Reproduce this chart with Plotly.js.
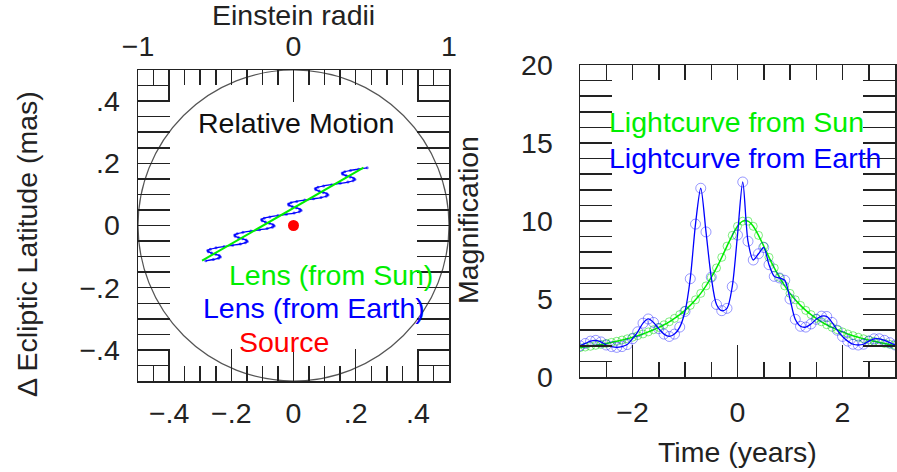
<!DOCTYPE html>
<html><head><meta charset="utf-8">
<script src="https://cdn.plot.ly/plotly-3.0.1.min.js"></script>
<style>html,body{margin:0;padding:0;background:#fff}#chart{width:897px;height:472px}</style>
</head><body><div id="chart"></div>
<script>
// ---------- data ----------
const timeYears = [-3.0,-2.9,-2.8,-2.7,-2.6,-2.5,-2.4,-2.3,-2.2,-2.1,-2.0,-1.9,-1.8,-1.7,-1.6,-1.5,-1.4,-1.3,-1.2,-1.1,-1.0,-0.9,-0.8,-0.7,-0.6,-0.5,-0.4,-0.3,-0.2,-0.1,0.0,0.1,0.2,0.3,0.4,0.5,0.6,0.7,0.8,0.9,1.0,1.1,1.2,1.3,1.4,1.5,1.6,1.7,1.8,1.9,2.0,2.1,2.2,2.3,2.4,2.5,2.6,2.7,2.8,2.9,3.0];
const magSun = [1.88,1.92,1.97,2.03,2.09,2.15,2.22,2.29,2.37,2.45,2.55,2.65,2.76,2.89,3.03,3.18,3.35,3.54,3.76,4.00,4.27,4.59,4.95,5.36,5.84,6.38,6.99,7.67,8.39,9.08,9.66,9.99,9.99,9.66,9.08,8.39,7.67,6.99,6.38,5.84,5.36,4.95,4.59,4.27,4.00,3.76,3.54,3.35,3.18,3.03,2.89,2.76,2.65,2.55,2.45,2.37,2.29,2.22,2.15,2.09,2.03];
const magEarth = [2.00,2.15,2.30,2.35,2.25,2.05,1.95,1.90,1.95,2.08,2.45,2.90,3.45,3.72,3.50,3.10,2.75,2.60,2.75,3.20,4.20,6.30,9.80,12.10,9.30,6.40,4.65,4.25,4.40,5.80,9.10,12.50,8.70,7.50,7.90,8.30,7.20,6.45,6.35,6.20,5.00,3.70,3.25,3.20,3.40,3.70,3.90,3.88,3.50,3.00,2.60,2.30,2.10,2.05,2.10,2.30,2.45,2.45,2.35,2.20,2.05];

const lensSunX = [-0.294, 0.225];
const lensSunY = [-0.113, 0.186];
const lensEarthX = [-0.2821,-0.2576,-0.2410,-0.2349,-0.2389,-0.2502,-0.2637,-0.2737,-0.2759,-0.2676,-0.2492,-0.2235,
  -0.1956,-0.1711,-0.1545,-0.1484,-0.1524,-0.1637,-0.1772,-0.1872,-0.1894,-0.1811,-0.1627,-0.1370,
  -0.1091,-0.0846,-0.0680,-0.0619,-0.0659,-0.0772,-0.0907,-0.1008,-0.1029,-0.0946,-0.0762,-0.0505,
  -0.0226,0.0019,0.0185,0.0246,0.0206,0.0093,-0.0042,-0.0142,-0.0164,-0.0081,0.0103,0.0360,
  0.0639,0.0884,0.1050,0.1111,0.1071,0.0958,0.0823,0.0722,0.0701,0.0784,0.0968,0.1225,
  0.1504,0.1749,0.1915,0.1976,0.1936,0.1823,0.1688,0.1587,0.1566,0.1649,0.1833,0.2090,0.2369];
const lensEarthY = [-0.1134,-0.1093,-0.1051,-0.1010,-0.0968,-0.0927,-0.0885,-0.0844,-0.0802,-0.0761,-0.0719,-0.0678,
  -0.0636,-0.0595,-0.0553,-0.0512,-0.0470,-0.0429,-0.0387,-0.0346,-0.0304,-0.0263,-0.0221,-0.0180,
  -0.0138,-0.0097,-0.0055,-0.0014,0.0028,0.0069,0.0111,0.0152,0.0194,0.0235,0.0277,0.0318,
  0.0360,0.0401,0.0443,0.0484,0.0526,0.0567,0.0609,0.0650,0.0692,0.0733,0.0775,0.0816,
  0.0858,0.0899,0.0941,0.0982,0.1024,0.1065,0.1107,0.1148,0.1190,0.1231,0.1273,0.1314,
  0.1356,0.1397,0.1439,0.1480,0.1522,0.1563,0.1605,0.1646,0.1688,0.1729,0.1771,0.1812,0.1854];
const sourceX = [0];
const sourceY = [0];
const einsteinRadiusMas = 0.5;

const latTickVals = [-0.4,-0.2,0,0.2,0.4];
const latTickText = ['\u2212.4','\u2212.2','0','.2','.4'];
const erTickVals = [-1,-0.8,0,0.8,1];
const erTickText = ['\u22121','','0','','1'];
const timeTickVals = [-2,0,2];
const timeTickText = ['\u22122','0','2'];
const magTickVals = [0,5,10,15,20];
const magTickText = ['0','5','10','15','20'];

// ---------- style / layout ----------
const W = 897, H = 472;
const px = x => x / W, py = y => 1 - y / H;
const FONT = 'Liberation Sans, Arial, Helvetica, sans-serif';
const INK = '#222';
const GREEN = '#00ee00', BLUE = '#0000ff', RED = '#ff0000';
const FS = 28.5;

function ax(extra) {
  return Object.assign({
    showgrid: false, zeroline: false, showline: true, linecolor: INK, linewidth: 1.5,
    ticks: 'inside', ticklen: 32, tickwidth: 1.5, tickcolor: INK,
    tickfont: {family: FONT, size: FS, color: INK}, fixedrange: true
  }, extra);
}
const minor = (dtick) => ({ticks: 'inside', ticklen: 15, tickwidth: 1.5, tickcolor: INK,
  tickmode: 'linear', tick0: 0, dtick: dtick, showgrid: false});

const traces = [
  {x: lensEarthX, y: lensEarthY, xaxis: 'x', yaxis: 'y', mode: 'lines+markers',
   line: {color: BLUE, width: 1.3, shape: 'spline', smoothing: 1},
   marker: {color: 'rgba(0,0,255,0.6)', size: 3}, showlegend: false},
  {x: lensSunX, y: lensSunY, xaxis: 'x', yaxis: 'y', mode: 'lines',
   line: {color: GREEN, width: 2}, showlegend: false},
  {x: sourceX, y: sourceY, xaxis: 'x', yaxis: 'y', mode: 'markers',
   marker: {color: RED, size: 11}, showlegend: false},
  {x: [], y: [], xaxis: 'x2', yaxis: 'y', mode: 'markers', showlegend: false},
  {x: timeYears, y: magSun, xaxis: 'x3', yaxis: 'y3', mode: 'lines+markers',
   line: {color: GREEN, width: 1.5, shape: 'spline', smoothing: 0.8},
   marker: {symbol: 'circle-open', size: 8, color: 'rgba(0,220,0,0.5)', line: {width: 1}}, showlegend: false},
  {x: timeYears, y: magEarth, xaxis: 'x3', yaxis: 'y3', mode: 'lines+markers',
   line: {color: BLUE, width: 1.3, shape: 'spline', smoothing: 0.8},
   marker: {symbol: 'circle-open', size: 10, color: 'rgba(0,0,255,0.4)', line: {width: 1}}, showlegend: false},
  {x: [], y: [], xaxis: 'x4', yaxis: 'y3', mode: 'markers', showlegend: false}
];

function note(text, x, y, color, opts) {
  return Object.assign({text: text, xref: 'paper', yref: 'paper', x: px(x), y: py(y),
    xanchor: 'center', yanchor: 'middle', showarrow: false,
    font: {family: FONT, size: FS, color: color}}, opts || {});
}

const layout = {
  width: W, height: H, margin: {l: 0, r: 0, t: 0, b: 0},
  paper_bgcolor: '#fff', plot_bgcolor: '#fff', showlegend: false,
  font: {family: FONT, size: FS, color: INK},
  xaxis: ax({domain: [px(138), px(449)], range: [-0.5, 0.5], anchor: 'y', mirror: true,
    tickmode: 'array', tickvals: latTickVals, ticktext: latTickText, minor: minor(0.05),
    ticklabelstandoff: 6}),
  yaxis: ax({domain: [py(381), py(70)], range: [-0.5, 0.5], anchor: 'x', mirror: 'allticks',
    tickmode: 'array', tickvals: latTickVals, ticktext: latTickText, minor: minor(0.05),
    ticklabelstandoff: 11}),
  xaxis2: ax({overlaying: 'x', side: 'top', anchor: 'y', range: [-1, 1], showline: false,
    tickmode: 'array', tickvals: erTickVals, ticktext: erTickText, minor: minor(0.1),
    ticklabelstandoff: 7}),
  xaxis3: ax({domain: [px(580), px(895)], range: [-3, 3], anchor: 'y3', mirror: true,
    tickmode: 'array', tickvals: timeTickVals, ticktext: timeTickText, minor: minor(0.5),
    ticklabelstandoff: 9}),
  yaxis3: ax({domain: [py(377), py(65)], range: [0, 20], anchor: 'x3', mirror: 'allticks',
    tickmode: 'array', tickvals: magTickVals, ticktext: magTickText, minor: minor(1),
    ticklabelstandoff: 20}),
  xaxis4: ax({overlaying: 'x3', side: 'top', anchor: 'y3', range: [-3, 3], showline: false,
    showticklabels: false, tickmode: 'linear', tick0: 0, dtick: 0.5, ticklen: 15}),
  shapes: [
    {type: 'circle', xref: 'x', yref: 'y', x0: -einsteinRadiusMas, x1: einsteinRadiusMas,
     y0: -einsteinRadiusMas, y1: einsteinRadiusMas, line: {color: '#555', width: 1.2}, layer: 'below'}
  ],
  annotations: [
    note('Einstein radii', 293, 15, INK),
    note('\u0394 Ecliptic Latitude (mas)', 27, 244, INK, {textangle: -90}),
    note('Magnification', 468, 220, INK, {textangle: -90}),
    note('Time (years)', 737, 452, INK),
    note('Relative Motion', 296, 123, '#111'),
    note('Lens (from Sun)', 331, 275, GREEN),
    note('Lens (from Earth)', 314, 308, BLUE),
    note('Source', 284, 342, RED),
    note('Lightcurve from Sun', 607, 122, GREEN, {xanchor: 'left'}),
    note('Lightcurve from Earth', 607, 158, BLUE, {xanchor: 'left'})
  ]
};

Plotly.newPlot('chart', traces, layout, {staticPlot: true, displayModeBar: false});
</script>
</body></html>
